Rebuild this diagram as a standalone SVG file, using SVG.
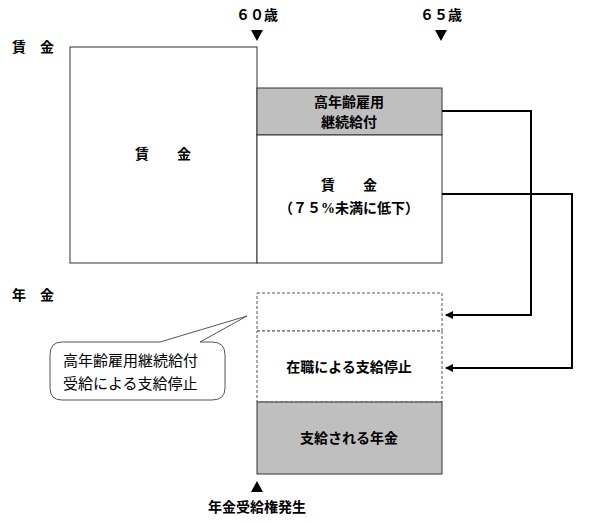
<svg xmlns="http://www.w3.org/2000/svg" width="600" height="524" viewBox="0 0 600 524">
<style>
text{font-family:"Liberation Serif","Noto Sans CJK JP",serif;font-size:14px;fill:#000}
.b{font-weight:bold;text-anchor:middle}
.c{font-size:15px}
.box{fill:#fff;stroke:#333;stroke-width:1}
.gray{fill:#bfbfbf;stroke:#333;stroke-width:1}
.dot{fill:#fff;stroke:#555;stroke-width:1;stroke-dasharray:3,2}
.con{fill:none;stroke:#000;stroke-width:2}
</style>
<defs><marker id="ar" markerWidth="8" markerHeight="8" refX="7" refY="4" orient="auto" markerUnits="userSpaceOnUse"><path d="M0,0L8,4L0,8z" fill="#000"/></marker></defs>
<rect width="600" height="524" fill="#fff"/>
<g id="labels">
<text x="12" y="52" font-weight="bold">賃　金</text>
<text x="12" y="300" font-weight="bold">年　金</text>
<text class="b" x="257" y="20">６０歳</text>
<text class="b" x="441" y="20">６５歳</text>
<path d="M251,30h12l-6,11z M435,30h12l-6,11z M251,492h12l-6,-11z" fill="#000"/>
<text class="b" x="257" y="512">年金受給権発生</text>
</g>
<g id="wage-left"><rect class="box" x="70" y="47" width="187" height="216"/><text class="b" x="163" y="159">賃　　金</text></g>
<g id="koureisha"><rect class="gray" x="257" y="88" width="185" height="47"/><text class="b" x="349" y="107">高年齢雇用</text><text class="b" x="349" y="127">継続給付</text></g>
<g id="wage-right"><rect class="box" x="257" y="135" width="185" height="128"/><text class="b" x="349" y="190">賃　　金</text><text class="b" x="349" y="213">（７５%未満に低下）</text></g>
<g id="stop1"><rect class="dot" x="257" y="293" width="185" height="38"/></g>
<g id="stop2"><rect class="dot" x="257" y="331" width="185" height="71"/><text class="b" x="349" y="372">在職による支給停止</text></g>
<g id="pension"><rect class="gray" x="257" y="402" width="185" height="72"/><text class="b" x="349" y="443">支給される年金</text></g>
<g id="callout"><path d="M70,342H160L247,316L200,342H212Q225,342 225,355V388Q225,400 212,400H62Q50,400 50,388V355Q50,342 62,342Z" fill="#fff" stroke="#555"/><text class="c" x="63" y="366">高年齢雇用継続給付</text><text class="c" x="63" y="389">受給による支給停止</text></g>
<g id="connectors">
<path class="con" d="M442,111H531V315H446" marker-end="url(#ar)"/>
<path class="con" d="M442,194H572V368H446" marker-end="url(#ar)"/>
</g>
</svg>
